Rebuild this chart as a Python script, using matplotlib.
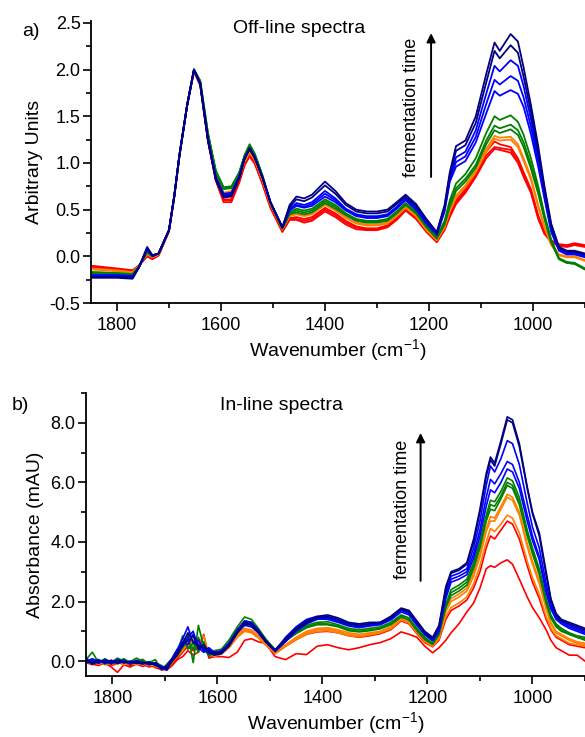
import matplotlib
matplotlib.use("Agg")
import matplotlib.pyplot as plt
from matplotlib.ticker import MultipleLocator, FormatStrFormatter

plt.rcParams['font.family'] = ['Liberation Sans', 'DejaVu Sans']
plt.rcParams['axes.unicode_minus'] = False
plt.rcParams['mathtext.default'] = 'regular'

# ---- a) off-line spectra (wavenumber grid, cm-1) ----
off_wn = [1850, 1800, 1770, 1758, 1742, 1732, 1720, 1700, 1690, 1680, 1665, 1652, 1640, 1625,
          1610, 1595, 1580, 1565, 1555, 1545, 1535, 1520, 1505, 1482, 1468, 1455, 1440, 1425,
          1400, 1380, 1360, 1340, 1320, 1300, 1280, 1262, 1245, 1225, 1205, 1185, 1170, 1160,
          1148, 1130, 1110, 1090, 1074, 1064, 1043, 1029, 1018, 1004, 990, 978, 965, 950, 935,
          920, 900]

off_red = [
    [-0.10, -0.13, -0.15, -0.10, 0.01, -0.02, 0.01, 0.27, 0.63, 1.07, 1.62, 1.98, 1.84, 1.24, 0.82,
     0.61, 0.61, 0.80, 0.99, 1.09, 1.01, 0.79, 0.54, 0.28,
     0.41, 0.42, 0.40, 0.42, 0.52, 0.46, 0.38, 0.32, 0.30, 0.30, 0.33, 0.41, 0.51, 0.42, 0.28, 0.16,
     0.30, 0.46, 0.60, 0.72, 0.90, 1.12, 1.23, 1.20, 1.17, 1.05, 0.90, 0.72, 0.44, 0.26, 0.17, 0.13,
     0.12, 0.14, 0.12],
    [-0.11, -0.14, -0.15, -0.10, 0.00, -0.03, 0.01, 0.27, 0.63, 1.07, 1.62, 1.98, 1.84, 1.24, 0.82,
     0.60, 0.60, 0.80, 0.98, 1.08, 1.00, 0.78, 0.53, 0.27,
     0.40, 0.40, 0.38, 0.40, 0.50, 0.44, 0.36, 0.31, 0.29, 0.29, 0.32, 0.40, 0.50, 0.41, 0.27, 0.16,
     0.29, 0.44, 0.58, 0.70, 0.87, 1.08, 1.17, 1.16, 1.14, 1.02, 0.87, 0.70, 0.42, 0.25, 0.16, 0.12,
     0.11, 0.13, 0.11],
    [-0.12, -0.14, -0.16, -0.10, 0.00, -0.03, 0.01, 0.27, 0.63, 1.07, 1.62, 1.98, 1.83, 1.23, 0.81,
     0.58, 0.58, 0.79, 0.97, 1.07, 0.99, 0.77, 0.52, 0.26,
     0.39, 0.39, 0.36, 0.38, 0.48, 0.42, 0.34, 0.29, 0.28, 0.28, 0.31, 0.39, 0.49, 0.40, 0.26, 0.15,
     0.28, 0.42, 0.56, 0.68, 0.85, 1.05, 1.15, 1.14, 1.11, 1.00, 0.85, 0.68, 0.40, 0.24, 0.15, 0.11,
     0.10, 0.12, 0.10],
]
off_orange = [
    [-0.13, -0.15, -0.17, -0.10, 0.03, -0.01, 0.02, 0.27, 0.63, 1.07, 1.62, 1.99, 1.86, 1.28, 0.87,
     0.68, 0.70, 0.86, 1.02, 1.12, 1.04, 0.82, 0.56, 0.29,
     0.44, 0.46, 0.44, 0.46, 0.56, 0.50, 0.42, 0.36, 0.34, 0.34, 0.36, 0.44, 0.53, 0.44, 0.29, 0.18,
     0.32, 0.50, 0.65, 0.76, 0.92, 1.15, 1.29, 1.27, 1.28, 1.20, 1.05, 0.85, 0.55, 0.32, 0.13, 0.02,
     0.00, 0.00, -0.04],
    [-0.14, -0.16, -0.17, -0.10, 0.02, -0.01, 0.02, 0.27, 0.63, 1.07, 1.62, 1.99, 1.86, 1.27, 0.86,
     0.67, 0.69, 0.85, 1.01, 1.11, 1.03, 0.81, 0.56, 0.29,
     0.43, 0.45, 0.43, 0.45, 0.55, 0.49, 0.41, 0.35, 0.33, 0.33, 0.35, 0.43, 0.52, 0.43, 0.28, 0.17,
     0.31, 0.48, 0.63, 0.74, 0.90, 1.12, 1.26, 1.24, 1.25, 1.17, 1.02, 0.82, 0.53, 0.31, 0.12, 0.01,
     -0.01, -0.01, -0.05],
]
off_green = [
    [-0.17, -0.18, -0.19, -0.11, 0.05, 0.00, 0.03, 0.28, 0.64, 1.08, 1.63, 2.00, 1.88, 1.32, 0.92,
     0.74, 0.75, 0.90, 1.08, 1.20, 1.10, 0.86, 0.58, 0.30,
     0.47, 0.51, 0.49, 0.51, 0.61, 0.55, 0.46, 0.40, 0.38, 0.38, 0.40, 0.48, 0.57, 0.48, 0.33, 0.21,
     0.38, 0.60, 0.78, 0.88, 1.05, 1.32, 1.50, 1.46, 1.51, 1.44, 1.30, 1.05, 0.75, 0.45, 0.18, -0.02,
     -0.06, -0.07, -0.13],
    [-0.17, -0.18, -0.19, -0.11, 0.05, 0.00, 0.03, 0.28, 0.64, 1.08, 1.63, 2.00, 1.88, 1.31, 0.91,
     0.73, 0.74, 0.89, 1.07, 1.19, 1.09, 0.86, 0.58, 0.30,
     0.46, 0.49, 0.47, 0.49, 0.59, 0.53, 0.45, 0.39, 0.37, 0.37, 0.39, 0.47, 0.56, 0.47, 0.32, 0.20,
     0.36, 0.56, 0.73, 0.83, 0.98, 1.24, 1.40, 1.37, 1.41, 1.35, 1.22, 0.98, 0.70, 0.42, 0.16, -0.03,
     -0.07, -0.08, -0.14],
    [-0.18, -0.19, -0.20, -0.11, 0.04, 0.00, 0.03, 0.28, 0.64, 1.08, 1.63, 2.00, 1.87, 1.30, 0.90,
     0.72, 0.73, 0.88, 1.06, 1.18, 1.08, 0.85, 0.57, 0.30,
     0.45, 0.47, 0.45, 0.47, 0.57, 0.51, 0.44, 0.38, 0.36, 0.36, 0.38, 0.46, 0.55, 0.46, 0.31, 0.19,
     0.34, 0.53, 0.70, 0.80, 0.95, 1.20, 1.35, 1.32, 1.36, 1.30, 1.17, 0.94, 0.67, 0.40, 0.15, -0.03,
     -0.07, -0.08, -0.14],
]
off_blue = [
    [-0.20, -0.20, -0.21, -0.12, 0.07, 0.00, 0.03, 0.28, 0.64, 1.08, 1.62, 1.99, 1.86, 1.26, 0.85,
     0.67, 0.68, 0.86, 1.05, 1.15, 1.06, 0.84, 0.58, 0.31,
     0.49, 0.54, 0.52, 0.54, 0.64, 0.58, 0.49, 0.43, 0.41, 0.41, 0.43, 0.51, 0.60, 0.50, 0.35, 0.23,
     0.48, 0.80, 0.96, 1.02, 1.22, 1.53, 1.77, 1.72, 1.78, 1.74, 1.60, 1.31, 0.96, 0.62, 0.26, 0.06,
     0.02, 0.02, -0.01],
    [-0.21, -0.21, -0.22, -0.12, 0.07, 0.01, 0.03, 0.28, 0.64, 1.08, 1.62, 1.99, 1.85, 1.25, 0.84,
     0.66, 0.67, 0.85, 1.04, 1.15, 1.06, 0.84, 0.58, 0.31,
     0.50, 0.55, 0.53, 0.56, 0.67, 0.60, 0.50, 0.44, 0.42, 0.42, 0.44, 0.52, 0.61, 0.51, 0.36, 0.24,
     0.50, 0.82, 1.01, 1.07, 1.28, 1.63, 1.89, 1.84, 1.93, 1.88, 1.70, 1.39, 1.01, 0.65, 0.28, 0.07,
     0.03, 0.03, 0.00],
    [-0.21, -0.21, -0.22, -0.12, 0.08, 0.01, 0.03, 0.28, 0.64, 1.08, 1.62, 2.00, 1.85, 1.25, 0.83,
     0.65, 0.66, 0.85, 1.04, 1.16, 1.06, 0.84, 0.58, 0.31,
     0.51, 0.57, 0.55, 0.58, 0.70, 0.62, 0.51, 0.45, 0.43, 0.43, 0.45, 0.53, 0.62, 0.52, 0.37, 0.24,
     0.52, 0.84, 1.06, 1.12, 1.35, 1.74, 2.04, 1.98, 2.10, 2.04, 1.82, 1.47, 1.06, 0.68, 0.30, 0.08,
     0.04, 0.04, 0.01],
]
off_navy = [
    [-0.23, -0.23, -0.24, -0.12, 0.09, 0.01, 0.03, 0.28, 0.64, 1.08, 1.62, 2.00, 1.85, 1.25, 0.83,
     0.64, 0.65, 0.84, 1.04, 1.15, 1.05, 0.84, 0.58, 0.31,
     0.53, 0.61, 0.59, 0.63, 0.76, 0.67, 0.55, 0.48, 0.46, 0.46, 0.48, 0.56, 0.64, 0.54, 0.39, 0.25,
     0.53, 0.87, 1.13, 1.19, 1.43, 1.86, 2.20, 2.12, 2.26, 2.18, 1.92, 1.55, 1.12, 0.72, 0.33, 0.09,
     0.05, 0.05, 0.02],
    [-0.22, -0.22, -0.23, -0.12, 0.10, 0.01, 0.03, 0.28, 0.64, 1.08, 1.62, 2.00, 1.84, 1.24, 0.82,
     0.63, 0.64, 0.84, 1.04, 1.16, 1.06, 0.84, 0.58, 0.31,
     0.55, 0.64, 0.62, 0.66, 0.80, 0.70, 0.57, 0.50, 0.48, 0.48, 0.50, 0.58, 0.66, 0.56, 0.40, 0.26,
     0.55, 0.90, 1.18, 1.24, 1.50, 1.95, 2.29, 2.20, 2.38, 2.30, 2.02, 1.62, 1.18, 0.75, 0.35, 0.10,
     0.06, 0.06, 0.03],
]

# ---- b) in-line spectra ----
in_wn = [1850, 1838, 1826, 1814, 1802, 1790, 1778, 1766, 1754, 1742, 1730, 1718, 1706, 1696,
         1686, 1676, 1666, 1656, 1646, 1636, 1626, 1616, 1606,
         1592, 1578, 1562, 1548, 1535, 1522, 1508, 1490, 1470, 1450, 1430, 1410, 1390, 1370,
         1350, 1330, 1310, 1290, 1270, 1250, 1235, 1220, 1205, 1190,
         1178, 1165, 1155, 1140, 1125, 1112, 1100, 1088, 1080, 1072, 1060, 1048, 1038, 1025,
         1010, 1000, 987, 974, 965, 955, 945, 930, 915, 900]

in_red = [
    [0.0, -0.1, -0.15, -0.05, -0.2, -0.38, -0.12, -0.2, -0.1, -0.18, -0.1, -0.22, -0.28, -0.3,
     -0.15, 0.05, 0.15, 0.35, 0.2, 0.3, 0.9, 0.1, 0.15,
     0.15, 0.12, 0.3, 0.7, 0.75, 0.65, 0.6, 0.15, 0.05, 0.25, 0.22, 0.5, 0.55, 0.45,
     0.38, 0.45, 0.55, 0.62, 0.75, 0.98, 0.9, 0.8, 0.5, 0.28,
     0.45, 0.7, 0.95, 1.25, 1.65, 1.95, 2.45, 3.1, 3.2, 3.15, 3.3, 3.4, 3.25, 2.75,
     2.15, 1.8, 1.45, 1.05, 0.7, 0.45, 0.35, 0.2, 0.2, 0.0],
    [-0.05, -0.12, -0.05, -0.1, -0.15, -0.08, -0.05, -0.15, -0.08, -0.1, -0.2, -0.12, -0.3, -0.22,
     -0.1, 0.1, 0.3, 0.5, 0.35, 0.55, 0.45, 0.2, 0.15,
     0.25, 0.45, 0.82, 1.02, 0.98, 0.8, 0.55, 0.25, 0.5, 0.72, 0.9, 0.98, 1.0, 0.95,
     0.85, 0.8, 0.85, 0.92, 1.05, 1.35, 1.25, 0.92, 0.62, 0.48,
     0.7, 1.4, 1.7, 1.85, 2.05, 2.45, 3.0, 3.8, 4.2, 4.1, 4.4, 4.7, 4.6, 4.1,
     3.2, 2.65, 2.1, 1.4, 1.05, 0.8, 0.7, 0.55, 0.5, 0.45],
]
in_orange = [
    [0.03, -0.05, -0.08, 0.0, -0.1, -0.05, -0.12, -0.05, -0.1, -0.08, -0.15, -0.1, -0.25, -0.2,
     -0.02, 0.2, 0.35, 0.65, 0.45, 0.5, 0.4, 0.25, 0.15,
     0.25, 0.45, 0.8, 1.0, 0.95, 0.78, 0.55, 0.25, 0.5, 0.72, 0.9, 1.0, 1.02, 0.95,
     0.85, 0.82, 0.88, 0.95, 1.08, 1.38, 1.28, 0.95, 0.65, 0.5,
     0.75, 1.5, 1.8, 1.95, 2.15, 2.6, 3.2, 4.0, 4.45, 4.35, 4.6, 4.9, 4.8, 4.3,
     3.35, 2.8, 2.25, 1.5, 1.1, 0.85, 0.75, 0.6, 0.55, 0.5],
    [-0.05, 0.02, -0.1, -0.05, -0.12, 0.0, -0.08, -0.1, -0.05, -0.12, -0.06, -0.18, -0.22, -0.15,
     0.0, 0.15, 0.4, 0.6, 0.7, 0.35, 0.5, 0.3, 0.2,
     0.28, 0.48, 0.85, 1.05, 1.0, 0.82, 0.58, 0.28, 0.52, 0.75, 0.95, 1.05, 1.08, 1.0,
     0.9, 0.85, 0.9, 0.98, 1.12, 1.42, 1.32, 0.98, 0.68, 0.53,
     0.8, 1.65, 2.0, 2.15, 2.35, 2.85, 3.5, 4.35, 4.7, 4.7, 5.1, 5.5, 5.4, 4.9,
     3.85, 3.25, 2.6, 1.75, 1.25, 0.95, 0.85, 0.7, 0.6, 0.55],
    [0.0, -0.08, 0.02, -0.12, -0.05, -0.1, 0.0, -0.06, -0.12, -0.02, -0.1, -0.15, -0.2, -0.25,
     -0.05, 0.25, 0.5, 0.75, 0.55, 0.6, 0.85, 0.2, 0.25,
     0.3, 0.5, 0.9, 1.1, 1.05, 0.85, 0.6, 0.3, 0.55, 0.8, 1.0, 1.1, 1.12, 1.05,
     0.95, 0.9, 0.95, 1.0, 1.15, 1.45, 1.35, 1.0, 0.7, 0.55,
     0.85, 1.7, 2.1, 2.25, 2.45, 2.95, 3.6, 4.45, 4.85, 4.8, 5.2, 5.6, 5.5, 5.0,
     3.95, 3.35, 2.7, 1.8, 1.3, 1.0, 0.9, 0.75, 0.65, 0.6],
]
in_green = [
    [0.02, -0.1, -0.02, 0.05, -0.08, -0.04, 0.02, -0.1, 0.0, -0.05, -0.02, -0.08, -0.22, -0.2,
     0.02, 0.2, 0.45, 0.7, 0.4, 0.8, 0.3, 0.35, 0.2,
     0.32, 0.55, 1.0, 1.3, 1.25, 0.98, 0.68, 0.33, 0.68, 0.92, 1.12, 1.22, 1.22, 1.15,
     1.02, 0.98, 1.02, 1.08, 1.22, 1.48, 1.38, 1.02, 0.72, 0.56,
     0.9, 1.8, 2.2, 2.35, 2.55, 3.1, 3.8, 4.7, 5.1, 5.05, 5.45, 5.9, 5.8, 5.25,
     4.2, 3.6, 2.9, 1.95, 1.45, 1.15, 1.0, 0.9, 0.8, 0.7],
    [-0.08, 0.05, 0.05, -0.1, 0.02, -0.02, 0.08, -0.05, -0.02, 0.06, -0.12, -0.05, -0.15, -0.3,
     0.0, 0.3, 0.85, 0.4, 0.6, 0.3, 0.65, 0.2, 0.25,
     0.35, 0.6, 1.05, 1.35, 1.3, 1.0, 0.7, 0.34, 0.7, 0.95, 1.15, 1.25, 1.25, 1.18,
     1.05, 1.0, 1.05, 1.1, 1.25, 1.5, 1.4, 1.05, 0.75, 0.58,
     0.9, 1.85, 2.3, 2.45, 2.65, 3.2, 3.9, 4.8, 5.25, 5.2, 5.55, 6.0, 5.9, 5.35,
     4.3, 3.7, 3.0, 2.0, 1.5, 1.2, 1.05, 0.9, 0.8, 0.75],
    [0.05, 0.3, -0.05, 0.08, -0.05, 0.1, 0.0, -0.02, 0.1, 0.0, -0.05, 0.05, -0.3, -0.1,
     0.1, 0.4, 0.5, 0.9, -0.05, 1.2, 0.5, 0.15, 0.35,
     0.4, 0.7, 1.15, 1.48, 1.4, 1.1, 0.75, 0.38, 0.75, 1.0, 1.2, 1.3, 1.32, 1.22,
     1.1, 1.05, 1.1, 1.15, 1.3, 1.55, 1.45, 1.1, 0.8, 0.6,
     0.95, 1.9, 2.4, 2.55, 2.75, 3.3, 4.0, 4.9, 5.4, 5.35, 5.7, 6.15, 6.05, 5.5,
     4.4, 3.8, 3.1, 2.1, 1.55, 1.25, 1.1, 0.95, 0.85, 0.8],
]
in_blue = [
    [-0.02, 0.08, -0.05, 0.0, -0.1, 0.05, -0.02, -0.08, 0.03, -0.06, -0.08, -0.1, -0.28, -0.15,
     0.08, 0.25, 0.65, 0.55, 0.9, 0.55, 0.4, 0.25, 0.3,
     0.28, 0.55, 1.0, 1.28, 1.22, 1.0, 0.68, 0.33, 0.7, 1.05, 1.3, 1.42, 1.4, 1.3,
     1.18, 1.12, 1.18, 1.22, 1.38, 1.65, 1.55, 1.2, 0.88, 0.68,
     1.0, 2.1, 2.65, 2.75, 2.9, 3.45, 4.2, 5.2, 5.75, 5.65, 6.0, 6.45, 6.35, 5.8,
     4.7, 4.05, 3.4, 2.3, 1.75, 1.4, 1.25, 1.1, 1.0, 0.9],
    [0.1, -0.05, 0.05, -0.08, 0.0, 0.03, -0.05, 0.0, -0.05, -0.1, -0.02, -0.15, -0.18, -0.22,
     0.05, 0.35, 0.5, 0.8, 1.0, 0.45, 0.3, 0.45, 0.3,
     0.3, 0.5, 0.95, 1.2, 1.15, 0.95, 0.65, 0.32, 0.65, 1.0, 1.25, 1.4, 1.45, 1.35,
     1.2, 1.15, 1.2, 1.25, 1.4, 1.7, 1.6, 1.25, 0.9, 0.7,
     1.05, 2.2, 2.75, 2.85, 3.0, 3.6, 4.4, 5.5, 6.1, 5.95, 6.3, 6.7, 6.6, 6.0,
     4.9, 4.2, 3.5, 2.4, 1.8, 1.45, 1.3, 1.15, 1.05, 0.95],
    [-0.05, 0.02, -0.08, 0.05, -0.02, -0.06, 0.04, -0.1, -0.02, -0.05, -0.12, -0.05, -0.2, -0.3,
     0.1, 0.4, 0.75, 1.15, 0.6, 0.7, 0.35, 0.4, 0.28,
     0.35, 0.6, 1.05, 1.35, 1.3, 1.05, 0.7, 0.35, 0.8, 1.15, 1.4, 1.5, 1.45, 1.35,
     1.25, 1.2, 1.25, 1.28, 1.45, 1.72, 1.65, 1.3, 0.95, 0.72,
     1.1, 2.3, 2.85, 2.95, 3.1, 3.8, 4.7, 5.9, 6.55, 6.35, 6.8, 7.4, 7.3, 6.6,
     5.3, 4.5, 3.8, 2.6, 1.9, 1.5, 1.35, 1.2, 1.1, 1.0],
]
in_navy = [
    [0.05, -0.1, 0.0, -0.02, -0.05, 0.02, -0.06, -0.02, -0.08, -0.03, -0.1, -0.08, -0.22, -0.25,
     0.0, 0.2, 0.55, 0.7, 0.85, 0.4, 0.55, 0.3, 0.2,
     0.25, 0.5, 0.95, 1.25, 1.2, 0.95, 0.65, 0.35, 0.7, 1.05, 1.3, 1.45, 1.5, 1.4,
     1.25, 1.2, 1.25, 1.3, 1.45, 1.75, 1.65, 1.3, 0.95, 0.75,
     1.15, 2.4, 2.95, 3.05, 3.25, 4.0, 5.0, 6.2, 6.75, 6.55, 7.3, 8.1, 8.0, 7.2,
     5.8, 4.95, 4.2, 2.9, 2.05, 1.55, 1.35, 1.25, 1.15, 1.05],
    [0.0, -0.05, 0.02, -0.05, 0.03, -0.08, -0.02, -0.05, 0.0, -0.08, -0.05, -0.12, -0.25, -0.2,
     0.05, 0.3, 0.6, 0.95, 0.65, 0.5, 0.45, 0.35, 0.25,
     0.3, 0.55, 1.0, 1.3, 1.25, 1.0, 0.7, 0.38, 0.75, 1.1, 1.35, 1.5, 1.55, 1.45,
     1.3, 1.25, 1.3, 1.3, 1.5, 1.78, 1.7, 1.35, 1.0, 0.8,
     1.2, 2.5, 3.0, 3.1, 3.3, 4.1, 5.1, 6.3, 6.85, 6.65, 7.4, 8.2, 8.1, 7.3,
     5.85, 5.0, 4.3, 3.0, 2.1, 1.6, 1.4, 1.3, 1.2, 1.1],
]

colors = {'red': '#ff0000', 'orange': '#ff8000', 'green': '#008000',
          'blue': '#0000ff', 'navy': '#000080'}


def style_axes(ax):
    ax.spines['top'].set_visible(False)
    ax.spines['right'].set_visible(False)
    for s in ('left', 'bottom'):
        ax.spines[s].set_linewidth(1.3)
    ax.tick_params(which='major', direction='out', length=6, width=1.2, labelsize=13)
    ax.tick_params(axis='y', which='major', pad=1.5)
    ax.tick_params(axis='x', which='major', pad=4)
    ax.tick_params(which='minor', direction='out', length=3.5, width=1.2)
    ax.xaxis.set_major_locator(MultipleLocator(200))
    ax.xaxis.set_minor_locator(MultipleLocator(100))


fig = plt.figure(figsize=(5.85, 7.37), dpi=100)

# panel a
ax1 = fig.add_axes([91 / 585, 1 - 303 / 737, 494 / 585, 282 / 737])
for name, group in [('red', off_red), ('orange', off_orange), ('green', off_green),
                    ('blue', off_blue), ('navy', off_navy)]:
    for y in group:
        ax1.plot(off_wn, y, color=colors[name], lw=1.3)
ax1.set_xlim(1850, 900)
ax1.set_ylim(-0.5, 2.52)
style_axes(ax1)
ax1.yaxis.set_major_locator(MultipleLocator(0.5))
ax1.yaxis.set_minor_locator(MultipleLocator(0.25))
ax1.yaxis.set_major_formatter(FormatStrFormatter('%.1f'))
ax1.set_xlabel('Wavenumber (cm$^{-1}$)', fontsize=14, labelpad=2)
ax1.set_ylabel('Arbitrary Units', fontsize=14, labelpad=5)
ax1.text(1449, 2.44, 'Off-line spectra', fontsize=14, ha='center', va='center')
ax1.annotate('', xy=(1196, 2.42), xytext=(1196, 0.82),
             arrowprops=dict(arrowstyle='-|>', color='black', lw=1.4, mutation_scale=13))
ax1.text(1233, 1.6, 'fermentation time', rotation=90, fontsize=13, ha='center', va='center')
fig.text(22 / 585, 1 - 32 / 737, 'a)', fontsize=14, ha='left', va='center')

# panel b
ax2 = fig.add_axes([86 / 585, 1 - 676 / 737, 499 / 585, 283 / 737])
for name, group in [('red', in_red), ('orange', in_orange), ('green', in_green),
                    ('blue', in_blue), ('navy', in_navy)]:
    for y in group:
        ax2.plot(in_wn, y, color=colors[name], lw=1.2)
ax2.set_xlim(1850, 900)
ax2.set_ylim(-0.5, 9.0)
style_axes(ax2)
ax2.yaxis.set_major_locator(MultipleLocator(2))
ax2.yaxis.set_minor_locator(MultipleLocator(1))
ax2.yaxis.set_major_formatter(FormatStrFormatter('%.1f'))
ax2.set_xlabel('Wavenumber (cm$^{-1}$)', fontsize=14, labelpad=2)
ax2.set_ylabel('Absorbance (mAU)', fontsize=14, labelpad=5)
ax2.text(1477, 8.57, 'In-line spectra', fontsize=14, ha='center', va='center')
ax2.annotate('', xy=(1213, 7.75), xytext=(1213, 2.6),
             arrowprops=dict(arrowstyle='-|>', color='black', lw=1.4, mutation_scale=13))
ax2.text(1247, 5.1, 'fermentation time', rotation=90, fontsize=13, ha='center', va='center')
fig.text(12 / 585, 1 - 405 / 737, 'b)', fontsize=14, ha='left', va='center')

fig.savefig('out.png', dpi=100)
